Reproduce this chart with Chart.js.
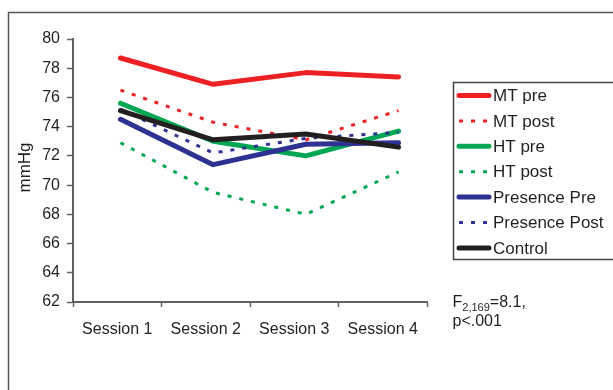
<!DOCTYPE html>
<html>
<head>
<meta charset="utf-8">
<script src="https://cdn.jsdelivr.net/npm/chart.js@4/dist/chart.umd.min.js"></script>
<style>
  html, body { margin: 0; padding: 0; background: #ffffff; }
  #wrap { width: 613px; height: 390px; position: relative; }
</style>
</head>
<body>
<div id="wrap"><canvas id="c" width="613" height="390"></canvas></div>
<script>
// ---- data ----
const sessions = ["Session 1", "Session 2", "Session 3", "Session 4"];
const sessionPos = [1, 2, 3, 4];
const yTicks = { min: 62, max: 80, step: 2 };
const seriesNames = ["MT pre", "MT post", "HT pre", "HT post", "Presence Pre", "Presence Post", "Control"];
const mtPre        = [78.7, 76.9, 77.7, 77.4];
const mtPost       = [76.5, 74.3, 73.1, 75.1];
const htPre        = [75.6, 73.0, 72.0, 73.7];
const htPost       = [72.9, 69.5, 68.0, 70.9];
const presencePre  = [74.5, 71.4, 72.8, 72.9];
const presencePost = [75.2, 72.2, 73.2, 73.6];
const control      = [75.1, 73.1, 73.5, 72.6];
const yTitle = "mmHg";
const statMain = "F";
const statSub = "2,169";
const statRest = "=8.1,";
const statLine2 = "p<.001";

// ---- styles ----
const FONT = '"Liberation Sans", Arial, sans-serif';
const TXT = '#231F20';
const AXIS = '#5f6062';
const RED = '#ED2024', GREEN = '#00A651', BLUE = '#2E3192', BLACK = '#231F20';

const seriesValues = [mtPre, mtPost, htPre, htPost, presencePre, presencePost, control];
const seriesColor = [RED, RED, GREEN, GREEN, BLUE, BLUE, BLACK];
const seriesDotted = [false, true, false, true, false, true, false];

const datasets = seriesValues.map((vals, i) => ({
  label: seriesNames[i],
  data: vals.map((v, j) => ({ x: sessionPos[j], y: v })),
  xAxisID: 'xl',
  yAxisID: 'y',
  borderColor: seriesColor[i],
  backgroundColor: seriesColor[i],
  borderWidth: seriesDotted[i] ? 3 : 5,
  borderDash: seriesDotted[i] ? [4, 8] : [],
  borderCapStyle: seriesDotted[i] ? 'butt' : 'round',
  borderJoinStyle: 'round',
  pointRadius: 0,
  tension: 0,
  fill: false,
  order: seriesValues.length - i
}));

const decor = {
  id: 'decor',
  afterDraw(chart) {
    const ctx = chart.ctx;
    const ca = chart.chartArea;
    ctx.save();
    // outer frame (top and left edges visible)
    ctx.strokeStyle = '#555555';
    ctx.lineWidth = 1.5;
    ctx.beginPath();
    ctx.moveTo(8.5, 390);
    ctx.lineTo(8.5, 12.5);
    ctx.lineTo(613, 12.5);
    ctx.stroke();

    // y-axis title
    ctx.fillStyle = TXT;
    ctx.font = '17px ' + FONT;
    ctx.textAlign = 'center';
    ctx.textBaseline = 'middle';
    ctx.translate(25, (ca.top + ca.bottom) / 2 - 3);
    ctx.rotate(-Math.PI / 2);
    ctx.fillText(yTitle, 0, 0);
    ctx.restore();

    // legend
    ctx.save();
    ctx.strokeStyle = '#444444';
    ctx.lineWidth = 1.5;
    ctx.strokeRect(453.5, 82.5, 200, 177);
    const ds = chart.data.datasets;
    const rowH = 25.4;
    ds.forEach((d, i) => {
      const y = 95.5 + i * rowH;
      ctx.beginPath();
      ctx.strokeStyle = d.borderColor;
      ctx.lineWidth = d.borderWidth;
      ctx.setLineDash(d.borderDash);
      ctx.lineCap = d.borderDash.length ? 'butt' : 'round';
      ctx.moveTo(459, y);
      ctx.lineTo(489, y);
      ctx.stroke();
      ctx.setLineDash([]);
      ctx.fillStyle = TXT;
      ctx.font = '17px ' + FONT;
      ctx.textAlign = 'left';
      ctx.textBaseline = 'middle';
      ctx.fillText(d.label, 493, y + 1);
    });

    // statistic annotation
    ctx.fillStyle = TXT;
    ctx.textAlign = 'left';
    ctx.textBaseline = 'alphabetic';
    ctx.font = '16px ' + FONT;
    let x = 452.5;
    ctx.fillText(statMain, x, 306.5);
    x += ctx.measureText(statMain).width;
    ctx.font = '11px ' + FONT;
    ctx.fillText(statSub, x, 310.5);
    x += ctx.measureText(statSub).width;
    ctx.font = '16px ' + FONT;
    ctx.fillText(statRest, x, 306.5);
    ctx.fillText(statLine2, 452.5, 325.5);
    ctx.restore();
  }
};

new Chart(document.getElementById('c'), {
  type: 'line',
  data: { labels: sessions, datasets },
  options: {
    responsive: false,
    animation: false,
    devicePixelRatio: 1,
    layout: { padding: { left: 0, top: 39, right: 186, bottom: 0 } },
    plugins: { legend: { display: false }, tooltip: { enabled: false } },
    scales: {
      x: {
        type: 'category',
        labels: sessions,
        offset: true,
        grid: { display: true, drawOnChartArea: false, offset: true, tickLength: 5, tickWidth: 1.5, tickColor: AXIS },
        border: { display: true, color: AXIS, width: 2 },
        ticks: { color: TXT, font: { family: FONT, size: 16 }, padding: 13, maxRotation: 0, autoSkip: false },
        afterFit(s) { s.height = 88; }
      },
      xl: {
        type: 'linear',
        display: false,
        min: 0.488,
        max: 4.307
      },
      y: {
        min: yTicks.min,
        max: yTicks.max,
        grid: { display: true, drawOnChartArea: false, tickLength: 6, tickWidth: 1.5, tickColor: AXIS },
        border: { display: true, color: AXIS, width: 2 },
        ticks: { stepSize: yTicks.step, color: TXT, font: { family: FONT, size: 16 }, padding: 7 },
        afterFit(s) { s.width = 73; }
      }
    }
  },
  plugins: [decor]
});
</script>
</body>
</html>
